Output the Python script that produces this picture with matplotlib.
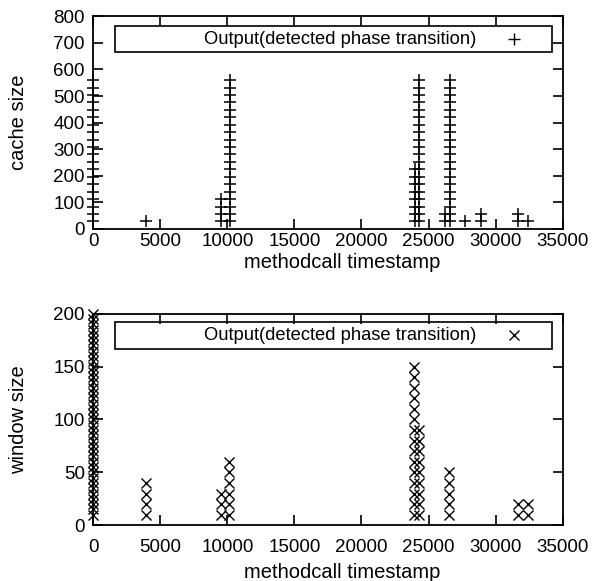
import matplotlib
matplotlib.use("Agg")
import matplotlib.pyplot as plt
from matplotlib.patches import Rectangle

plt.rcParams['font.family'] = ['Liberation Sans', 'DejaVu Sans']
plt.rcParams['font.size'] = 13

# detected phase transitions: timestamp -> cache sizes reported there
cache_times = [0, 3920, 9500, 10180, 24020, 24270, 26260, 26610, 27750, 28910, 31650, 32390]
cache_sizes = [
    [28, 56, 84, 112, 140, 168, 196, 224, 252, 280, 308, 336, 364, 392, 420, 448, 476, 504, 532, 560],
    [28],
    [28, 56, 84, 112],
    [28, 56, 84, 112, 140, 168, 196, 224, 252, 280, 308, 336, 364, 392, 420, 448, 476, 504, 532, 560],
    [28, 56, 84, 112, 140, 168, 196, 224],
    [28, 56, 84, 112, 140, 168, 196, 224, 252, 280, 308, 336, 364, 392, 420, 448, 476, 504, 532, 560],
    [28, 56],
    [28, 56, 84, 112, 140, 168, 196, 224, 252, 280, 308, 336, 364, 392, 420, 448, 476, 504, 532, 560],
    [28],
    [28, 56],
    [28, 56],
    [28],
]

# detected phase transitions: timestamp -> window sizes
window_times = [0, 3920, 9500, 10130, 23950, 24270, 26560, 31650, 32390]
window_sizes = [
    [10, 15, 20, 25, 30, 35, 40, 45, 50, 55, 60, 65, 70, 75, 80, 85, 90, 95, 100,
     105, 110, 115, 120, 125, 130, 135, 140, 145, 150, 155, 160, 165, 170, 175, 180,
     185, 190, 195, 200],
    [10, 20, 30, 40],
    [10, 20, 30],
    [10, 20, 30, 40, 50, 60],
    [10, 20, 30, 40, 50, 60, 70, 80, 90, 100, 110, 120, 130, 140, 150],
    [10, 20, 30, 40, 50, 60, 70, 80, 90],
    [10, 20, 30, 40, 50],
    [10, 20],
    [10, 20],
]

x_ticks = [0, 5000, 10000, 15000, 20000, 25000, 30000, 35000]
cache_ticks = [0, 100, 200, 300, 400, 500, 600, 700, 800]
window_ticks = [0, 50, 100, 150, 200]
legend_label = "Output(detected phase transition)"


def expand(times, sizes):
    xs, ys = [], []
    for t, vals in zip(times, sizes):
        for v in vals:
            xs.append(t)
            ys.append(v)
    return xs, ys


def style_axes(ax, yticks, ylabel, xpad, xlabelpad):
    ax.set_xlim(0, 35000)
    ax.set_ylim(yticks[0], yticks[-1])
    ax.set_xticks(x_ticks)
    ax.set_yticks(yticks)
    ax.tick_params(direction='in', length=7, width=1.2, top=True, right=True,
                   labelsize=13.5, pad=6)
    ax.tick_params(axis='x', pad=xpad)
    for s in ax.spines.values():
        s.set_linewidth(1.3)
    ax.set_xlabel("methodcall timestamp", labelpad=xlabelpad, fontsize=14.5)
    ax.xaxis.label.set_x(0.531)
    ax.set_ylabel(ylabel, labelpad=18, fontsize=14.5)


def gp_legend(ax, marker, ms, box_y):
    # gnuplot style key: boxed, text right aligned, sample to the right
    y0, y1 = box_y
    ax.add_patch(Rectangle((0.046, y0), 0.932, y1 - y0, transform=ax.transAxes,
                           fill=False, lw=1.2, ec='black', zorder=5))
    ym = (y0 + y1) / 2
    ax.text(0.816, ym, legend_label, transform=ax.transAxes, ha='right',
            va='center', fontsize=13.2, zorder=6)
    ax.plot([0.897], [ym], transform=ax.transAxes, marker=marker, ms=ms,
            mew=1.0, color='black', ls='none', clip_on=False, zorder=6)


fig = plt.figure(figsize=(6.09, 5.81), dpi=100)
ax1 = fig.add_axes([0.153, 0.606, 0.771, 0.366])
ax2 = fig.add_axes([0.153, 0.096, 0.771, 0.364])

cx, cy = expand(cache_times, cache_sizes)
ax1.plot(cx, cy, ls='none', marker='+', ms=8.5, mew=1.1, color='black', clip_on=False)
style_axes(ax1, cache_ticks, "cache size", 3, 2)
gp_legend(ax1, '+', 8, (0.831, 0.953))

wx, wy = expand(window_times, window_sizes)
ax2.plot(wx, wy, ls='none', marker='x', ms=7, mew=1.0, color='black', clip_on=False)
style_axes(ax2, window_ticks, "window size", 10, 5)
gp_legend(ax2, 'x', 7, (0.834, 0.961))

fig.savefig("out.png", dpi=100)
